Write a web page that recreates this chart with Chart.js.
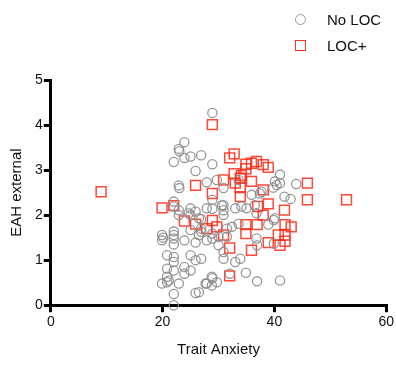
<!DOCTYPE html>
<html>
<head>
<meta charset="utf-8">
<script src="https://cdn.jsdelivr.net/npm/chart.js@4"></script>
<style>
  body { margin: 0; background: #fff; }
  #wrap { position: relative; width: 396px; height: 365px; }
  #legend { position: absolute; left: 295px; top: 6px; font: 15px "Liberation Sans Narrow", "Liberation Sans", sans-serif; color: #111; }
  .item { height: 26px; display: flex; align-items: center; }
  .sym { width: 11px; height: 11px; box-sizing: border-box; margin-right: 21px; }
  .circle { border: 1.5px solid #999; border-radius: 50%; }
  .square { border: 1.5px solid #ff3322; }
</style>
</head>
<body>
<div id="wrap">
  <canvas id="chart" width="396" height="365"></canvas>
  <div id="legend">
    <div class="item"><div class="sym circle"></div>No LOC</div>
    <div class="item"><div class="sym square"></div>LOC+</div>
  </div>
</div>
<script>
// Trait anxiety (x) / EAH external (y)
const noLocX = [28.9, 23.9, 22.9, 23.0, 22.0, 23.9, 25.0, 26.9, 28.9, 25.9, 27.9, 29.7, 22.9, 23.0, 28.9, 22.0, 28.9, 22.9, 25.0, 25.9,
  22.0, 41.0, 40.1, 41.0, 43.9, 39.8, 41.8, 42.9, 30.9, 35.9, 37.4, 30.9, 30.9, 33.0, 35.0, 40.1, 36.9, 39.9, 38.9, 39.9,
  33.9, 33.0, 30.9, 34.9, 36.9, 41.0, 32.0, 28.8, 27.7, 28.8, 29.7, 26.5, 34.1, 26.9, 28.9, 30.0, 30.0, 30.9, 32.4, 33.6,
  26.9, 19.9, 20.1, 19.9, 22.0, 22.0, 22.0, 22.0, 23.9, 25.9, 25.0, 26.9, 27.9, 28.9, 22.9, 25.0, 26.9, 20.8, 22.0, 22.0,
  20.8, 22.0, 20.8, 21.1, 19.9, 20.8, 22.9, 22.0, 22.0, 23.9, 23.9, 25.0, 25.0, 25.9, 25.9, 27.9, 28.9, 33.6, 37.7, 40.4,
  30.6, 30.9, 36.5, 36.8, 31.5, 36.8, 24.7, 27.9, 26.5, 31.5, 26.5];
const noLocY = [4.27, 3.62, 3.47, 3.42, 3.18, 3.27, 3.30, 3.33, 3.13, 2.98, 2.73, 2.78, 2.66, 2.60, 2.34, 2.30, 2.14, 2.11, 2.15, 2.08,
  2.19, 2.90, 2.75, 2.71, 2.69, 2.61, 2.41, 2.36, 2.60, 2.45, 2.48, 2.22, 2.11, 2.15, 2.15, 1.93, 1.33, 1.37, 1.79, 1.89,
  1.03, 0.96, 1.03, 0.72, 0.53, 0.55, 0.70, 0.63, 0.48, 0.44, 0.51, 0.29, 2.19, 1.70, 1.59, 1.52, 1.33, 1.18, 1.74, 1.81,
  1.03, 1.56, 1.50, 1.44, 1.64, 1.56, 1.48, 1.35, 1.44, 1.39, 1.67, 1.63, 1.44, 1.48, 2.00, 2.00, 1.91, 1.11, 1.07, 0.96,
  0.81, 0.77, 0.63, 0.55, 0.48, 0.51, 0.48, 0.25, 0.00, 0.85, 0.70, 0.77, 1.11, 1.00, 0.27, 0.48, 0.60, 2.78, 2.52, 2.67,
  2.22, 2.00, 2.22, 2.04, 1.70, 1.48, 2.04, 2.15, 1.56, 1.52, 1.93];

const locX = [9.0, 28.9, 25.9, 28.9, 19.9, 22.0, 23.9, 25.9, 28.9, 27.9, 29.7, 32.8, 32.0, 34.9, 35.9, 36.8, 38.0, 38.9, 34.9, 32.8,
  33.9, 30.9, 33.0, 35.9, 33.9, 38.0, 33.9, 38.9, 37.0, 41.8, 45.9, 45.9, 52.9, 38.0, 34.9, 34.9, 36.9, 41.9, 43.0, 40.7,
  41.9, 41.9, 41.0, 38.9, 35.9, 32.0, 32.0, 30.9, 34.1];
const locY = [2.52, 4.01, 2.66, 2.48, 2.16, 2.21, 1.87, 1.80, 1.88, 1.70, 1.74, 3.36, 3.27, 3.13, 3.15, 3.19, 3.12, 3.06, 3.03, 2.92,
  2.82, 2.78, 2.71, 2.75, 2.61, 2.56, 2.41, 2.25, 2.19, 2.11, 2.71, 2.34, 2.34, 2.00, 1.79, 1.59, 1.79, 1.79, 1.74, 1.56,
  1.56, 1.42, 1.33, 1.39, 1.22, 1.27, 0.65, 1.56, 2.88];

const xTicks = [0, 20, 40, 60];
const yTicks = [0, 1, 2, 3, 4, 5];

const toPoints = (xs, ys) => xs.map((x, i) => ({ x: x, y: ys[i] }));
const font = "'Liberation Sans Narrow', 'Liberation Sans', sans-serif";

new Chart(document.getElementById('chart'), {
  type: 'scatter',
  data: {
    datasets: [{
      label: 'No LOC',
      data: toPoints(noLocX, noLocY),
      pointStyle: 'circle',
      pointRadius: 4.6,
      borderColor: 'rgba(140,140,140,0.9)',
      backgroundColor: 'rgba(0,0,0,0)',
      borderWidth: 1.3,
      clip: false
    }, {
      label: 'LOC+',
      data: toPoints(locX, locY),
      pointStyle: 'rect',
      pointRadius: 7,
      borderColor: 'rgba(255,40,20,0.85)',
      backgroundColor: 'rgba(0,0,0,0)',
      borderWidth: 1.5,
      clip: false
    }]
  },
  options: {
    responsive: false,
    animation: false,
    layout: { padding: { top: 80, right: 2, left: 4, bottom: 2 } },
    plugins: { legend: { display: false }, tooltip: { enabled: false } },
    scales: {
      x: {
        type: 'linear', min: 0, max: 60,
        afterBuildTicks: (s) => { s.ticks = xTicks.map(v => ({ value: v })); },
        border: { color: '#000', width: 3 },
        grid: { drawOnChartArea: false, color: '#000', lineWidth: 3, tickLength: 7 },
        ticks: { color: '#111', font: { family: font, size: 14 }, padding: 2 },
        title: { display: true, text: 'Trait Anxiety', color: '#111', font: { family: font, size: 15 }, padding: { top: 8 } }
      },
      y: {
        type: 'linear', min: 0, max: 5,
        afterBuildTicks: (s) => { s.ticks = yTicks.map(v => ({ value: v })); },
        border: { color: '#000', width: 3 },
        grid: { drawOnChartArea: false, color: '#000', lineWidth: 3, tickLength: 7 },
        ticks: { color: '#111', font: { family: font, size: 14 }, padding: 1 },
        title: { display: true, text: 'EAH external', color: '#111', font: { family: font, size: 15 }, padding: { bottom: 8 } }
      }
    }
  }
});
</script>
</body>
</html>
